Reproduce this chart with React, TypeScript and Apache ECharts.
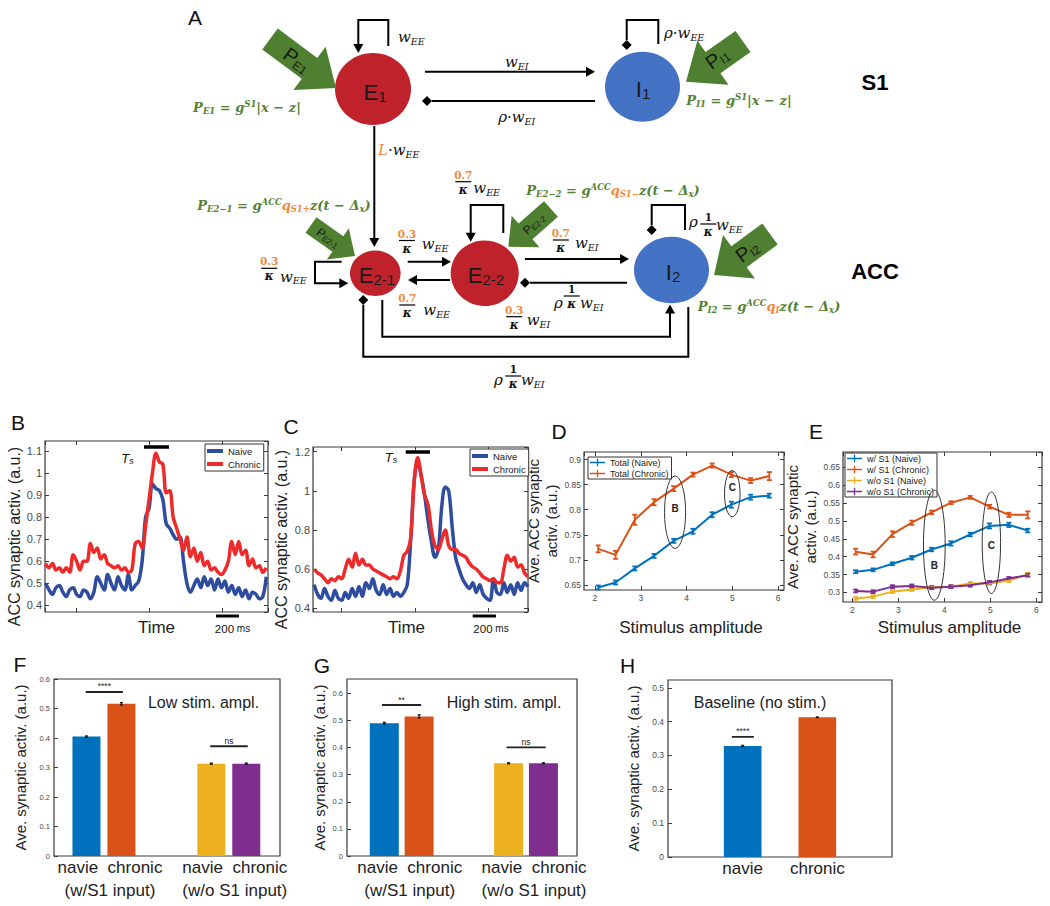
import React, { useEffect, useRef } from "react";
import * as echarts from "echarts";

// ===================== DATA =====================
// Panels B / C: ACC synaptic activity traces (time in ms)
const TIME_B = [-270, -240, -210, -180, -150, -120, -90, -60, -30, 0, 30, 60, 90, 120, 150, 180, 210, 240, 270, 300, 330, 360, 390, 420, 450, 480, 510, 540, 570, 600, 630, 660, 690, 720, 750, 780, 810, 840, 870, 900, 930, 960, 990, 1020, 1050, 1080, 1110, 1140, 1170, 1200, 1230, 1260, 1290, 1320, 1350, 1380, 1410, 1440, 1470, 1500, 1530, 1560, 1590, 1620, 1650];
const B_NAIVE = [0.50, 0.47, 0.45, 0.48, 0.49, 0.46, 0.44, 0.47, 0.48, 0.45, 0.44, 0.47, 0.46, 0.43, 0.46, 0.53, 0.50, 0.47, 0.54, 0.50, 0.47, 0.53, 0.49, 0.47, 0.54, 0.47, 0.49, 0.51, 0.60, 0.80, 0.84, 0.95, 0.93, 0.92, 0.88, 0.77, 0.75, 0.72, 0.70, 0.71, 0.60, 0.50, 0.46, 0.49, 0.52, 0.48, 0.53, 0.49, 0.52, 0.47, 0.52, 0.48, 0.51, 0.46, 0.49, 0.45, 0.48, 0.44, 0.47, 0.43, 0.46, 0.45, 0.43, 0.44, 0.53];
const B_CHRONIC = [0.59, 0.57, 0.59, 0.56, 0.57, 0.55, 0.57, 0.55, 0.63, 0.60, 0.56, 0.60, 0.60, 0.68, 0.64, 0.66, 0.61, 0.63, 0.59, 0.58, 0.57, 0.58, 0.56, 0.57, 0.55, 0.56, 0.68, 0.69, 0.66, 0.76, 0.88, 1.00, 1.09, 1.05, 1.04, 0.91, 0.92, 0.80, 0.75, 0.70, 0.65, 0.71, 0.62, 0.66, 0.60, 0.64, 0.58, 0.60, 0.56, 0.57, 0.55, 0.54, 0.56, 0.60, 0.69, 0.63, 0.69, 0.63, 0.65, 0.58, 0.61, 0.57, 0.58, 0.55, 0.57];
const TIME_C = [-240, -210, -180, -150, -120, -90, -60, -30, 0, 30, 60, 90, 120, 150, 180, 210, 240, 270, 300, 330, 360, 390, 420, 450, 480, 510, 540, 570, 600, 630, 660, 690, 720, 750, 780, 810, 840, 870, 900, 930, 960, 990, 1020, 1050, 1080, 1110, 1140, 1170, 1200, 1230, 1260, 1290, 1320, 1350, 1380, 1410, 1440, 1470, 1500, 1530, 1560, 1590, 1620];
const C_NAIVE = [0.52, 0.47, 0.45, 0.50, 0.46, 0.44, 0.49, 0.45, 0.44, 0.48, 0.45, 0.50, 0.46, 0.51, 0.46, 0.53, 0.50, 0.55, 0.49, 0.47, 0.52, 0.47, 0.50, 0.46, 0.48, 0.46, 0.48, 0.52, 0.75, 1.05, 1.15, 1.08, 0.98, 0.85, 0.74, 0.66, 0.70, 0.92, 1.02, 1.00, 0.82, 0.66, 0.60, 0.55, 0.52, 0.50, 0.53, 0.48, 0.52, 0.47, 0.45, 0.44, 0.55, 0.48, 0.47, 0.53, 0.48, 0.52, 0.47, 0.53, 0.49, 0.53, 0.51];
const C_CHRONIC = [0.60, 0.58, 0.57, 0.55, 0.53, 0.55, 0.54, 0.56, 0.55, 0.60, 0.65, 0.61, 0.68, 0.62, 0.65, 0.62, 0.62, 0.60, 0.59, 0.58, 0.57, 0.56, 0.55, 0.56, 0.55, 0.59, 0.67, 0.69, 0.76, 1.05, 1.17, 1.08, 0.98, 0.93, 0.80, 0.72, 0.70, 0.75, 0.80, 0.72, 0.70, 0.70, 0.68, 0.67, 0.66, 0.63, 0.61, 0.60, 0.58, 0.56, 0.55, 0.54, 0.55, 0.53, 0.53, 0.60, 0.67, 0.64, 0.66, 0.61, 0.62, 0.58, 0.56];

// Panels D / E: stimulus amplitude sweeps
const STIM_AMPL = [2.07, 2.45, 2.87, 3.29, 3.72, 4.14, 4.56, 4.98, 5.40, 5.81];
const D_TOTAL_NAIVE = [0.645, 0.655, 0.683, 0.708, 0.738, 0.757, 0.790, 0.810, 0.825, 0.828];
const D_TOTAL_NAIVE_ERR = [0.004, 0.004, 0.004, 0.004, 0.004, 0.005, 0.005, 0.006, 0.005, 0.004];
const D_TOTAL_CHRONIC = [0.722, 0.710, 0.780, 0.815, 0.842, 0.870, 0.888, 0.870, 0.858, 0.867];
const D_TOTAL_CHRONIC_ERR = [0.007, 0.008, 0.010, 0.006, 0.005, 0.004, 0.004, 0.005, 0.005, 0.008];
const E_S1_NAIVE = [0.358, 0.363, 0.380, 0.397, 0.420, 0.437, 0.462, 0.486, 0.489, 0.473];
const E_S1_NAIVE_ERR = [0.004, 0.004, 0.004, 0.005, 0.005, 0.006, 0.005, 0.007, 0.006, 0.005];
const E_S1_CHRONIC = [0.414, 0.406, 0.463, 0.495, 0.524, 0.551, 0.566, 0.540, 0.517, 0.517];
const E_S1_CHRONIC_ERR = [0.008, 0.008, 0.008, 0.006, 0.005, 0.004, 0.004, 0.005, 0.006, 0.010];
const E_NOS1_NAIVE = [0.283, 0.288, 0.302, 0.308, 0.314, 0.316, 0.325, 0.325, 0.333, 0.350];
const E_NOS1_NAIVE_ERR = [0.004, 0.004, 0.004, 0.004, 0.004, 0.004, 0.004, 0.004, 0.004, 0.005];
const E_NOS1_CHRONIC = [0.304, 0.302, 0.316, 0.318, 0.313, 0.316, 0.320, 0.328, 0.339, 0.348];
const E_NOS1_CHRONIC_ERR = [0.004, 0.004, 0.004, 0.004, 0.004, 0.004, 0.004, 0.004, 0.004, 0.004];
// ellipse call-outs: [centre x, centre y, radius x, radius y, label y]
const D_MARKS = [[3.75, 0.795, 0.23, 0.072, 0.803], [5.0, 0.832, 0.17, 0.046, 0.844]];
const E_MARKS = [[3.78, 0.432, 0.236, 0.154, 0.376], [5.02, 0.439, 0.2, 0.142, 0.432]];
const MARK_LABELS = ["B", "C"];

// Panels F / G / H: bar charts
const BAR_TICKS = ["navie", "chronic"];
const BAR_GROUPS = ["(w/S1 input)", "(w/o S1 input)"];
const BAR_POS_PAIRED = [0.86, 1.14, 1.86, 2.14];
const F_LOW = [0.405, 0.516, 0.313, 0.313];
const F_LOW_ERR = [0.002, 0.004, 0.002, 0.002];
const G_HIGH = [0.49, 0.515, 0.342, 0.342];
const G_HIGH_ERR = [0.003, 0.006, 0.002, 0.002];
const BAR_POS_H = [1, 2];
const H_BASE = [0.328, 0.413];
const H_BASE_ERR = [0.002, 0.001];
// significance brackets: [x from, x to, y]
const F_SIG = [[0.854, 1.152, 0.556], [1.851, 2.152, 0.372]];
const G_SIG = [[0.841, 1.156, 0.557], [1.843, 2.158, 0.401]];
const H_SIG = [[0.855, 1.15, 0.355]];
const F_SIG_LABELS = ["****", "ns"];
const G_SIG_LABELS = ["**", "ns"];
const H_SIG_LABELS = ["****"];

// ===================== STYLE =====================
const SANS = "'Liberation Sans', Arial, Helvetica, sans-serif";
const SERIF = "'DejaVu Serif', 'Liberation Serif', serif";
const BOX = "#3a3a3a";
const NAIVE_BLUE = "#2F4D9E";
const CHRONIC_RED = "#EE2B2B";
const M_BLUE = "#0072BD";
const M_ORANGE = "#D95319";
const M_YELLOW = "#EDB120";
const M_PURPLE = "#7E2F8E";
const NODE_RED = "#C0222C";
const NODE_BLUE = "#4472C4";
const GREEN = "#548235";
const GREEN_ARROW = "#4F7F31";
const ORANGE = "#F08A3C";
const INK = "#111";

const R: any = {
  k: { fontFamily: SERIF, fontStyle: "italic", fontSize: 15, fill: INK, lineHeight: 18 },
  ks: { fontFamily: SERIF, fontStyle: "italic", fontSize: 9.5, fill: INK, lineHeight: 8, verticalAlign: "bottom" },
  ko: { fontFamily: SERIF, fontStyle: "italic", fontSize: 15, fill: ORANGE, lineHeight: 18 },
  fn: { fontFamily: SERIF, fontWeight: "bold", fontSize: 10.5, fill: ORANGE, lineHeight: 12 },
  fk: { fontFamily: SERIF, fontWeight: "bold", fontSize: 10.5, fill: INK, lineHeight: 12 },
  kap: { fontFamily: SERIF, fontStyle: "italic", fontWeight: "bold", fontSize: 12, fill: INK, lineHeight: 12 },
  g: { fontFamily: SERIF, fontStyle: "italic", fontWeight: "bold", fontSize: 13, fill: GREEN, lineHeight: 16 },
  gs: { fontFamily: SERIF, fontStyle: "italic", fontWeight: "bold", fontSize: 8.5, fill: GREEN, lineHeight: 6, verticalAlign: "bottom" },
  gp: { fontFamily: SERIF, fontStyle: "italic", fontWeight: "bold", fontSize: 8.5, fill: GREEN, lineHeight: 6, verticalAlign: "top" },
  o: { fontFamily: SERIF, fontStyle: "italic", fontWeight: "bold", fontSize: 13, fill: ORANGE, lineHeight: 16 },
  os: { fontFamily: SERIF, fontStyle: "italic", fontWeight: "bold", fontSize: 8.5, fill: ORANGE, lineHeight: 6, verticalAlign: "bottom" },
  c: { fontFamily: SANS, fontSize: 22, fill: "#1a1a1a", lineHeight: 24 },
  cs: { fontFamily: SANS, fontSize: 15, fill: "#1a1a1a", lineHeight: 10, verticalAlign: "bottom" },
  pa: { fontFamily: SANS, fontSize: 20, fill: "#1a1a1a", lineHeight: 22 },
  pas: { fontFamily: SANS, fontSize: 12, fill: "#1a1a1a", lineHeight: 8, verticalAlign: "bottom" },
  pb: { fontFamily: SANS, fontSize: 12, fill: "#1a1a1a", lineHeight: 13 },
  pbs: { fontFamily: SANS, fontSize: 8, fill: "#1a1a1a", lineHeight: 6, verticalAlign: "bottom" },
  h: { fontFamily: SANS, fontWeight: "bold", fontSize: 22, fill: "#000", lineHeight: 24 },
  pl: { fontFamily: SANS, fontSize: 21, fill: INK, lineHeight: 24 },
  ts: { fontFamily: SANS, fontStyle: "italic", fontSize: 13, fill: INK, lineHeight: 15 },
  tss: { fontFamily: SANS, fontStyle: "italic", fontSize: 9, fill: INK, lineHeight: 6, verticalAlign: "bottom" },
  sb: { fontFamily: SANS, fontSize: 11.5, fill: INK, lineHeight: 14 },
  sm: { fontFamily: SANS, fontSize: 10, fill: INK, lineHeight: 14 },
  note: { fontFamily: SANS, fontSize: 16, fill: "#222", lineHeight: 18 },
};

// ===================== GRAPHIC HELPERS =====================
const T = (x: number, y: number, text: string, align = "center", rotDeg = 0) => ({
  type: "text",
  x,
  y,
  rotation: (rotDeg * Math.PI) / 180,
  style: { text, rich: R, textAlign: align, textVerticalAlign: "middle" },
});
const ln = (x1: number, y1: number, x2: number, y2: number, w = 2, c = "#000") => ({
  type: "line",
  shape: { x1, y1, x2, y2 },
  style: { stroke: c, lineWidth: w },
});
const pl = (points: number[][], w = 2) => ({
  type: "polyline",
  shape: { points },
  style: { stroke: "#000", lineWidth: w, fill: null },
});
const head = (x: number, y: number, dir: string, len = 9, hw = 5) => {
  const d: any = { r: [1, 0], l: [-1, 0], u: [0, -1], d: [0, 1] };
  const [dx, dy] = d[dir];
  const px = -dy;
  const py = dx;
  return {
    type: "polygon",
    shape: {
      points: [
        [x, y],
        [x - dx * len + px * hw, y - dy * len + py * hw],
        [x - dx * len - px * hw, y - dy * len - py * hw],
      ],
    },
    style: { fill: "#000" },
  };
};
const dia = (x: number, y: number, s = 5) => ({
  type: "polygon",
  shape: { points: [[x - s, y], [x, y - s], [x + s, y], [x, y + s]] },
  style: { fill: "#000" },
});
const fat = (tail: number[], tip: number[], sw: number, hw: number, hl: number) => {
  const dx = tip[0] - tail[0];
  const dy = tip[1] - tail[1];
  const L = Math.hypot(dx, dy);
  const ux = dx / L;
  const uy = dy / L;
  const px = -uy;
  const py = ux;
  const bx = tip[0] - ux * hl;
  const by = tip[1] - uy * hl;
  return {
    type: "polygon",
    shape: {
      points: [
        tip,
        [bx + px * hw, by + py * hw],
        [bx + px * sw, by + py * sw],
        [tail[0] + px * sw, tail[1] + py * sw],
        [tail[0] - px * sw, tail[1] - py * sw],
        [bx - px * sw, by - py * sw],
        [bx - px * hw, by - py * hw],
      ],
    },
    style: { fill: GREEN_ARROW },
  };
};
const frac = (cx: number, yBar: number, num: string, black = false) => [
  T(cx, yBar - 7, black ? `{fk|${num}}` : `{fn|${num}}`),
  ln(cx - 8, yBar, cx + 8, yBar, 1.2),
  T(cx, yBar + 8, "{kap|κ}"),
];

const FORM_PE1 = "{g|P}{gs|E1}{g| = g}{gp|S1}{g||x − z|}";
const FORM_PI1 = "{g|P}{gs|I1}{g| = g}{gp|S1}{g||x − z|}";
const FORM_PE21 = "{g|P}{gs|E2−1}{g| = g}{gp|ACC}{o|q}{os|S1+}{g|z(t − Δ}{gs|x}{g|)}";
const FORM_PE22 = "{g|P}{gs|E2−2}{g| = g}{gp|ACC}{o|q}{os|S1−}{g|z(t − Δ}{gs|x}{g|)}";
const FORM_PI2 = "{g|P}{gs|I2}{g| = g}{gp|ACC}{o|q}{os|I}{g|z(t − Δ}{gs|x}{g|)}";

function buildDiagram() {
  const el: any[] = [];
  const node = (cx: number, cy: number, rx: number, ry: number, fill: string) => ({
    type: "ellipse",
    shape: { cx, cy, rx, ry },
    style: { fill },
  });
  el.push(T(195, 17.5, "{pl|A}"));
  // S1 nodes
  el.push(node(373, 89, 38, 36, NODE_RED), node(642.5, 86.7, 37.5, 35, NODE_BLUE));
  el.push(T(375, 92, "{c|E}{cs|1}"), T(643, 89, "{c|I}{cs|1}"));
  // E1 self loop
  el.push(pl([[388.3, 46], [388.3, 20], [358.3, 20], [358.3, 44]]), head(358.3, 53, "d"));
  el.push(T(398, 37, "{k|w}{ks|EE}", "left"));
  // I1 self loop
  el.push(pl([[658.3, 44], [658.3, 20], [626.7, 20], [626.7, 40]]), dia(626.7, 45));
  el.push(T(664, 33, "{k|ρ·w}{ks|EE}", "left"));
  // E1 <-> I1
  el.push(ln(425, 71.7, 586, 71.7), head(595, 71.7, "r"));
  el.push(T(516.7, 62, "{k|w}{ks|EI}"));
  el.push(ln(595, 101, 432, 101), dia(427, 101));
  el.push(T(516.7, 117, "{k|ρ·w}{ks|EI}"));
  // external drive S1
  el.push(fat([270, 39], [336, 88], 13, 27, 33));
  el.push(T(297, 60, "{pa|P}{pas|E1}", "center", -36));
  el.push(T(247, 107, FORM_PE1));
  el.push(fat([743, 41.5], [686, 81.7], 13, 27, 33));
  el.push(T(717, 58, "{pa|P}{pas|I1}", "center", 35));
  el.push(T(739, 100, FORM_PI1));
  el.push(T(875, 82, "{h|S1}"));
  // S1 -> ACC
  el.push(ln(374.3, 126, 374.3, 238), head(374.3, 247, "d"));
  el.push(T(378, 150, "{ko|L}{k|·w}{ks|EE}", "left"));
  // ACC nodes
  el.push(
    node(375.3, 273.3, 25.3, 22.7, NODE_RED),
    node(484.7, 273.3, 34, 32.7, NODE_RED),
    node(671.5, 270, 37.5, 33.3, NODE_BLUE)
  );
  el.push(T(377, 275, "{c|E}{cs|2-1}"), T(486, 275, "{c|E}{cs|2-2}"), T(673, 272, "{c|I}{cs|2}"));
  // E2-1 -> E2-2
  el.push(ln(407.7, 261.7, 443, 261.7), head(451, 261.7, "r"));
  el.push(...frac(407, 240.5, "0.3"), T(421.7, 244, "{k|w}{ks|EE}", "left"));
  // E2-2 -> E2-1
  el.push(ln(450, 280, 416, 280), head(408, 280, "l"));
  el.push(...frac(407.3, 305, "0.7"), T(423.3, 310, "{k|w}{ks|EE}", "left"));
  // E2-2 -> I2
  el.push(ln(525, 259, 621, 259), head(629, 259, "r"));
  el.push(...frac(560.8, 240, "0.7"), T(575, 243.3, "{k|w}{ks|EI}", "left"));
  // I2 -> E2-2
  el.push(ln(627, 282.7, 530, 282.7), dia(525, 282.7));
  el.push(T(558.3, 303.3, "{k|ρ}"), ...frac(571.7, 296, "1", true), T(580, 303.3, "{k|w}{ks|EI}", "left"));
  // E2-1 self loop
  el.push(pl([[341.7, 261.7], [315, 261.7], [315, 283.3], [340, 283.3]]), head(348.3, 283.3, "r"));
  el.push(...frac(269.2, 268.3, "0.3"), T(280, 276.7, "{k|w}{ks|EE}", "left"));
  // E2-2 self loop
  el.push(pl([[503.3, 233], [503.3, 205], [470.7, 205], [470.7, 233]]), head(470.7, 241.7, "d"));
  el.push(...frac(463.3, 181.7, "0.7"), T(473.3, 188.3, "{k|w}{ks|EE}", "left"));
  // I2 self loop
  el.push(pl([[685, 230], [685, 205], [651.7, 205], [651.7, 225]]), dia(651.7, 230));
  el.push(T(693.3, 221.7, "{k|ρ}"), ...frac(708.3, 224, "1", true), T(716, 225, "{k|w}{ks|EE}", "left"));
  // E2-1 -> I2 (bottom)
  el.push(pl([[382.3, 300], [382.3, 336.7], [670, 336.7], [670, 312]]), head(670, 304.5, "u"));
  el.push(...frac(514.2, 316.7, "0.3"), T(526.7, 320, "{k|w}{ks|EI}", "left"));
  // I2 -> E2-1 (outer)
  el.push(pl([[688.3, 307], [688.3, 356.7], [363.3, 356.7], [363.3, 305]]), dia(363.3, 300));
  el.push(T(498.3, 380, "{k|ρ}"), ...frac(513.3, 376, "1", true), T(521, 380, "{k|w}{ks|EI}", "left"));
  // external drives ACC
  el.push(fat([311, 225], [355, 256], 9.5, 19, 21));
  el.push(T(328, 238, "{pb|P}{pbs|E2-1}", "center", -36));
  el.push(T(284, 205, FORM_PE21));
  el.push(fat([551, 209], [508.3, 246.7], 10.5, 21, 23));
  el.push(T(534, 224, "{pb|P}{pbs|E2-2}", "center", 41));
  el.push(T(613, 190, FORM_PE22));
  el.push(fat([770, 234], [714, 275], 13, 27, 31));
  el.push(T(747, 251, "{pa|P}{pas|I2}", "center", 36));
  el.push(T(769, 306.7, FORM_PI2));
  el.push(T(875, 271.7, "{h|ACC}"));
  return el;
}

function buildPanelGraphics() {
  const el: any[] = [];
  el.push(T(18, 422.5, "{pl|B}"), T(291, 426, "{pl|C}"), T(559, 431, "{pl|D}"), T(816, 431, "{pl|E}"));
  el.push(T(20, 664, "{pl|F}"), T(322, 665, "{pl|G}"), T(627.5, 665.5, "{pl|H}"));
  // stimulus bars
  el.push(ln(144, 447, 169, 447, 3.5), T(127.5, 458, "{ts|T}{tss|s}"));
  el.push(ln(405.7, 452, 430, 452, 3.5), T(391, 457, "{ts|T}{tss|s}"));
  // 200 ms scale bars
  el.push(ln(216, 616, 239, 616, 3), T(232.5, 628.5, "{sb|200}{sm| ms}"));
  el.push(ln(472.7, 616, 496, 616, 3), T(491, 628.5, "{sb|200}{sm| ms}"));
  // condition notes
  el.push(T(203.5, 702, "{note|Low stim. ampl.}"), T(504, 702, "{note|High stim. ampl.}"), T(760, 702, "{note|Baseline (no stim.)}"));
  return el;
}

// ===================== AXES =====================
const tick = { show: true, inside: true, length: 4, lineStyle: { color: BOX, width: 1 } };
function vAxis(o: any) {
  return {
    gridIndex: o.grid,
    type: "value",
    position: o.pos,
    min: o.min,
    max: o.max,
    minInterval: o.step,
    maxInterval: o.step,
    splitNumber: Math.max(1, Math.round((o.max - o.min) / o.step)),
    axisLine: { show: false, onZero: false },
    splitLine: { show: false },
    axisTick: o.noTick ? { show: false } : tick,
    axisLabel: o.label
      ? {
          show: true,
          fontSize: o.label,
          color: o.labelColor || "#4a4a4a",
          fontFamily: SANS,
          margin: o.margin ?? 4,
          lineHeight: o.lineHeight,
          padding: o.labelPad,
          showMinLabel: !!o.showMin,
          showMaxLabel: !!o.showMax,
          formatter: o.fmt,
        }
      : { show: false },
    name: o.name,
    nameLocation: "middle",
    nameGap: o.nameGap,
    nameRotate: o.nameRotate,
    nameTextStyle: {
      fontSize: o.nameSize || 16,
      color: "#222",
      fontFamily: SANS,
      lineHeight: o.nameLH,
      padding: o.namePad,
    },
  };
}

const zip = (xs: number[], ys: number[]) => xs.map((x, i) => [x, ys[i]]);
const zip3 = (xs: number[], ys: number[], es: number[]) => xs.map((x, i) => [x, ys[i], es[i]]);

const errRender = (color: string, cap: number, w: number) => (params: any, api: any) => {
  const x = api.value(0);
  const y = api.value(1);
  const e = api.value(2);
  const hi = api.coord([x, y + e]);
  const lo = api.coord([x, y - e]);
  const st = { stroke: color, lineWidth: w };
  return {
    type: "group",
    children: [
      { type: "line", shape: { x1: hi[0], y1: hi[1], x2: lo[0], y2: lo[1] }, style: st },
      { type: "line", shape: { x1: hi[0] - cap, y1: hi[1], x2: hi[0] + cap, y2: hi[1] }, style: st },
      { type: "line", shape: { x1: lo[0] - cap, y1: lo[1], x2: lo[0] + cap, y2: lo[1] }, style: st },
    ],
  };
};
const ellipseRender = (params: any, api: any) => {
  const c = api.coord([api.value(0), api.value(1)]);
  const s = api.size([api.value(2), api.value(3)]);
  const lp = api.coord([api.value(0), api.value(4)]);
  return {
    type: "group",
    children: [
      { type: "ellipse", shape: { cx: c[0], cy: c[1], rx: s[0], ry: s[1] }, style: { fill: "none", stroke: "#333", lineWidth: 1 } },
      {
        type: "text",
        x: lp[0],
        y: lp[1],
        style: { text: MARK_LABELS[params.dataIndex], textAlign: "center", textVerticalAlign: "middle", fontSize: 10, fontWeight: "bold", fontFamily: SANS, fill: "#222" },
      },
    ],
  };
};
const sigRender = (labels: string[]) => (params: any, api: any) => {
  const a = api.coord([api.value(0), api.value(2)]);
  const b = api.coord([api.value(1), api.value(2)]);
  return {
    type: "group",
    children: [
      { type: "line", shape: { x1: a[0], y1: a[1], x2: b[0], y2: b[1] }, style: { stroke: "#222", lineWidth: 1.8 } },
      {
        type: "text",
        x: (a[0] + b[0]) / 2,
        y: a[1] - 1,
        style: { text: labels[params.dataIndex], textAlign: "center", textVerticalAlign: "bottom", fontSize: 8.5, fontFamily: SANS, fill: "#222" },
      },
    ],
  };
};

function buildOption() {
  const gridBase = { show: true, borderColor: BOX, borderWidth: 1.2, containLabel: false, outerBoundsMode: "none" };
  const grids = [
    { left: 45, top: 441, width: 223, height: 171 },
    { left: 313, top: 447, width: 215, height: 165 },
    { left: 584, top: 452, width: 200, height: 138 },
    { left: 843, top: 452, width: 199, height: 150 },
    { left: 54, top: 679, width: 226, height: 177 },
    { left: 347, top: 679, width: 230, height: 177 },
    { left: 668, top: 680, width: 224, height: 177 },
  ].map((g) => ({ ...gridBase, ...g }));

  const barFmt = (v: number) => {
    const r = Math.round(v);
    if (Math.abs(v - r) > 1e-6 || r < 1 || r > BAR_GROUPS.length) return "";
    return `${BAR_TICKS[0]}  ${BAR_TICKS[1]}\n${BAR_GROUPS[r - 1]}`;
  };
  const hFmt = (v: number) => {
    const r = Math.round(v);
    if (Math.abs(v - r) > 1e-6 || r < 1 || r > BAR_TICKS.length) return "";
    return BAR_TICKS[r - 1];
  };

  const xAxis = [
    vAxis({ grid: 0, min: -275, max: 1665, step: 635, name: "Time", nameGap: 7, nameSize: 17 }),
    vAxis({ grid: 1, min: -250, max: 1620, step: 635, name: "Time", nameGap: 7, nameSize: 17, namePad: [0, 28, 0, 0] }),
    vAxis({ grid: 2, min: 1.76, max: 6.13, step: 1, label: 8.5, margin: 3, name: "Stimulus amplitude", nameGap: 29, nameSize: 17, namePad: [0, 0, 0, 14] }),
    vAxis({ grid: 3, min: 1.795, max: 6.12, step: 1, label: 8.5, margin: 3, name: "Stimulus amplitude", nameGap: 17, nameSize: 17, namePad: [0, 0, 0, 14] }),
    vAxis({ grid: 4, min: 0.6, max: 2.41, step: 1, noTick: true, label: 17, labelColor: "#222", margin: 0, lineHeight: 23, labelPad: [0, 0, 0, 12], fmt: barFmt }),
    vAxis({ grid: 5, min: 0.56, max: 2.41, step: 1, noTick: true, label: 17, labelColor: "#222", margin: 0, lineHeight: 23, labelPad: [0, 0, 0, 16], fmt: barFmt }),
    vAxis({ grid: 6, min: 0, max: 3, step: 1, noTick: true, label: 17, labelColor: "#222", margin: 0, lineHeight: 23, fmt: hFmt }),
    // mirrored top axes (MATLAB box ticks)
    vAxis({ grid: 0, pos: "top", min: -275, max: 1665, step: 635 }),
    vAxis({ grid: 1, pos: "top", min: -250, max: 1620, step: 635 }),
    vAxis({ grid: 2, pos: "top", min: 1.76, max: 6.13, step: 1 }),
    vAxis({ grid: 3, pos: "top", min: 1.795, max: 6.12, step: 1 }),
  ];
  const yName = "ACC synaptic activ. (a.u.)";
  const yNameD = "Ave. ACC synaptic\nactiv. (a.u.)";
  const yNameBar = "Ave. synaptic activ. (a.u.)";
  const yAxis = [
    vAxis({ grid: 0, min: 0.37, max: 1.145, step: 0.1, label: 11, margin: 3, name: yName, nameGap: 18, nameRotate: 90, nameSize: 16, namePad: [0, 20, 0, 0] }),
    vAxis({ grid: 1, min: 0.38, max: 1.224, step: 0.2, label: 11, margin: 3, name: yName, nameGap: 24, nameRotate: 90, nameSize: 16, namePad: [0, 20, 0, 0] }),
    vAxis({ grid: 2, min: 0.64, max: 0.915, step: 0.05, label: 8.5, margin: 3, name: yNameD, nameGap: 13, nameRotate: 90, nameSize: 15, nameLH: 18 }),
    vAxis({ grid: 3, min: 0.273, max: 0.693, step: 0.05, label: 8.5, margin: 3, name: yNameD, nameGap: 19, nameRotate: 90, nameSize: 15, nameLH: 18 }),
    vAxis({ grid: 4, min: 0, max: 0.6, step: 0.1, label: 7.5, margin: 4, showMin: true, showMax: true, name: yNameBar, nameGap: 26, nameRotate: 90, nameSize: 15 }),
    vAxis({ grid: 5, min: 0, max: 0.653, step: 0.1, label: 7.5, margin: 4, showMin: true, name: yNameBar, nameGap: 20, nameRotate: 90, nameSize: 15 }),
    vAxis({ grid: 6, min: 0, max: 0.523, step: 0.1, label: 8.5, margin: 4, showMin: true, name: yNameBar, nameGap: 27, nameRotate: 90, nameSize: 15 }),
    vAxis({ grid: 0, pos: "right", min: 0.37, max: 1.145, step: 0.1 }),
    vAxis({ grid: 1, pos: "right", min: 0.38, max: 1.224, step: 0.2 }),
    vAxis({ grid: 2, pos: "right", min: 0.64, max: 0.915, step: 0.05 }),
    vAxis({ grid: 3, pos: "right", min: 0.273, max: 0.693, step: 0.05 }),
  ];

  const trace = (name: string, gi: number, t: number[], v: number[], color: string) => ({
    type: "line",
    name,
    xAxisIndex: gi,
    yAxisIndex: gi,
    data: zip(t, v),
    showSymbol: false,
    smooth: 0.35,
    lineStyle: { color, width: 3.5 },
    itemStyle: { color },
    silent: true,
  });
  const sweep = (name: string, gi: number, v: number[], e: number[], color: string) => [
    {
      type: "line",
      name,
      xAxisIndex: gi,
      yAxisIndex: gi,
      data: zip(STIM_AMPL, v),
      showSymbol: false,
      lineStyle: { color, width: 2 },
      itemStyle: { color },
      silent: true,
    },
    {
      type: "custom",
      name: name + " err",
      xAxisIndex: gi,
      yAxisIndex: gi,
      data: zip3(STIM_AMPL, v, e),
      encode: { x: 0, y: 1 },
      renderItem: errRender(color, 2.5, 1.8),
      silent: true,
      z: 3,
    },
  ];
  const bars = (gi: number, pos: number[], v: number[], e: number[], colors: string[], width: number, sig: number[][], sigLabels: string[]) => [
    {
      type: "bar",
      xAxisIndex: gi,
      yAxisIndex: gi,
      barWidth: width,
      data: pos.map((x, i) => ({ value: [x, v[i]], itemStyle: { color: colors[i] } })),
      silent: true,
    },
    {
      type: "custom",
      xAxisIndex: gi,
      yAxisIndex: gi,
      data: zip3(pos, v, e),
      encode: { x: 0, y: 1 },
      renderItem: errRender("#111", 1.5, 1.2),
      silent: true,
      z: 3,
    },
    {
      type: "custom",
      xAxisIndex: gi,
      yAxisIndex: gi,
      data: sig,
      encode: { x: [0, 1], y: 2 },
      renderItem: sigRender(sigLabels),
      silent: true,
      z: 3,
    },
  ];
  const marks = (gi: number, data: number[][]) => ({
    type: "custom",
    xAxisIndex: gi,
    yAxisIndex: gi,
    data,
    encode: { x: 0, y: 1 },
    renderItem: ellipseRender,
    silent: true,
    z: 4,
  });

  const series: any[] = [
    trace("Naive", 0, TIME_B, B_NAIVE, NAIVE_BLUE),
    trace("Chronic", 0, TIME_B, B_CHRONIC, CHRONIC_RED),
    trace("Naive", 1, TIME_C, C_NAIVE, NAIVE_BLUE),
    trace("Chronic", 1, TIME_C, C_CHRONIC, CHRONIC_RED),
    ...sweep("Total (Naive)", 2, D_TOTAL_NAIVE, D_TOTAL_NAIVE_ERR, M_BLUE),
    ...sweep("Total (Chronic)", 2, D_TOTAL_CHRONIC, D_TOTAL_CHRONIC_ERR, M_ORANGE),
    marks(2, D_MARKS),
    ...sweep("w/o S1 (Naive)", 3, E_NOS1_NAIVE, E_NOS1_NAIVE_ERR, M_YELLOW),
    ...sweep("w/o S1 (Chronic)", 3, E_NOS1_CHRONIC, E_NOS1_CHRONIC_ERR, M_PURPLE),
    ...sweep("w/ S1 (Naive)", 3, E_S1_NAIVE, E_S1_NAIVE_ERR, M_BLUE),
    ...sweep("w/ S1 (Chronic)", 3, E_S1_CHRONIC, E_S1_CHRONIC_ERR, M_ORANGE),
    marks(3, E_MARKS),
    ...bars(4, BAR_POS_PAIRED, F_LOW, F_LOW_ERR, [M_BLUE, M_ORANGE, M_YELLOW, M_PURPLE], 28, F_SIG, F_SIG_LABELS),
    ...bars(5, BAR_POS_PAIRED, G_HIGH, G_HIGH_ERR, [M_BLUE, M_ORANGE, M_YELLOW, M_PURPLE], 29, G_SIG, G_SIG_LABELS),
    ...bars(6, BAR_POS_H, H_BASE, H_BASE_ERR, [M_BLUE, M_ORANGE], 37.7, H_SIG, H_SIG_LABELS),
  ];

  const legendBase = {
    orient: "vertical",
    borderColor: "#333",
    borderWidth: 1,
    backgroundColor: "#fff",
    selectedMode: false,
    textStyle: { fontSize: 9, color: "#222", fontFamily: SANS },
  };
  const plusIcon = "path://M0,3.3H16V4.7H0Z M7.3,0H8.7V8H7.3Z";
  const legend = [
    { ...legendBase, data: ["Naive", "Chronic"], left: 205, top: 444, icon: "rect", itemWidth: 16, itemHeight: 4, itemGap: 3, padding: [2, 3, 2, 2], textStyle: { ...legendBase.textStyle, fontSize: 9.5 } },
    { ...legendBase, data: ["Naive", "Chronic"], left: 470, top: 449, icon: "rect", itemWidth: 16, itemHeight: 4, itemGap: 3, padding: [2, 3, 2, 2], textStyle: { ...legendBase.textStyle, fontSize: 9.5 } },
    { ...legendBase, data: ["Total (Naive)", "Total (Chronic)"], left: 588, top: 457, icon: plusIcon, itemWidth: 15, itemHeight: 8, itemGap: 2, padding: [1, 3, 1, 2] },
    { ...legendBase, data: ["w/ S1 (Naive)", "w/ S1 (Chronic)", "w/o S1 (Naive)", "w/o S1 (Chronic)"], left: 845, top: 453, icon: plusIcon, itemWidth: 15, itemHeight: 8, itemGap: 2, padding: [1, 3, 1, 2] },
  ];

  return {
    animation: false,
    backgroundColor: "#fff",
    grid: grids,
    xAxis,
    yAxis,
    legend,
    series,
    graphic: { elements: [...buildDiagram(), ...buildPanelGraphics()] },
  };
}

export default function App() {
  const ref = useRef<HTMLDivElement>(null);
  useEffect(() => {
    if (!ref.current) return;
    const chart = echarts.init(ref.current, null, { renderer: "svg" });
    chart.setOption(buildOption() as any);
    return () => chart.dispose();
  }, []);
  return (
    <div
      ref={ref}
      style={{ position: "absolute", left: 0, top: 0, width: 1050, height: 906, background: "#fff" }}
    />
  );
}
